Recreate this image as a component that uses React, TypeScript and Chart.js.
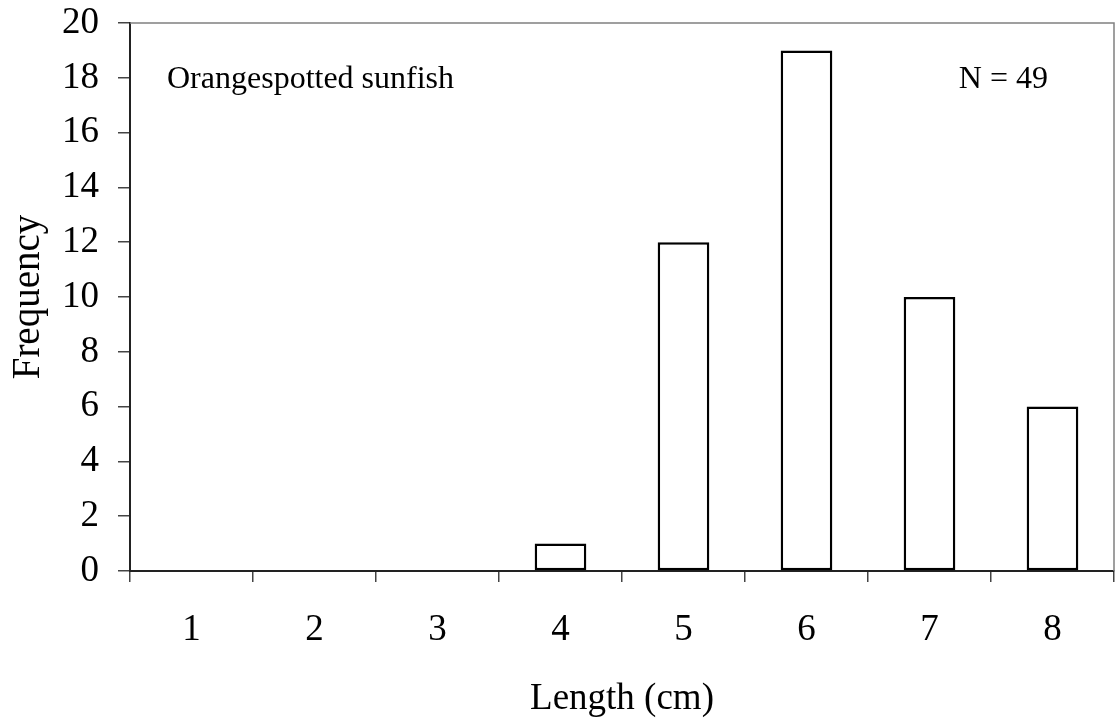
import React, { useEffect, useRef } from "react";
import { Chart, registerables } from "chart.js";

Chart.register(...registerables);

const categories = ["1", "2", "3", "4", "5", "6", "7", "8"];
const frequency = [0, 0, 0, 1, 12, 19, 10, 6];
const speciesLabel = "Orangespotted sunfish";
const countLabel = "N = 49";
const xTitle = "Length (cm)";
const yTitle = "Frequency";

const SERIF = '"Liberation Serif", "Times New Roman", serif';

const framePlugin = {
  id: "frameAndNotes",
  beforeDatasetsDraw(chart: any) {
    const { ctx, chartArea } = chart;
    ctx.save();
    ctx.strokeStyle = "#808080";
    ctx.lineWidth = 1.5;
    ctx.beginPath();
    ctx.moveTo(chartArea.left, chartArea.top);
    ctx.lineTo(chartArea.right, chartArea.top);
    ctx.lineTo(chartArea.right, chartArea.bottom);
    ctx.stroke();
    ctx.restore();
  },
  afterDraw(chart: any) {
    const { ctx, chartArea } = chart;
    ctx.save();
    ctx.fillStyle = "#000";
    ctx.font = `32px ${SERIF}`;
    ctx.textBaseline = "alphabetic";
    ctx.textAlign = "left";
    ctx.fillText(speciesLabel, chartArea.left + 37, chartArea.top + 65);
    ctx.textAlign = "right";
    ctx.fillText(countLabel, chartArea.right - 66, chartArea.top + 65);
    ctx.restore();
  },
};

export default function App() {
  const ref = useRef<HTMLCanvasElement | null>(null);

  useEffect(() => {
    document.body.style.margin = "0";
    if (!ref.current) return;
    const chart = new Chart(ref.current, {
      type: "bar",
      data: {
        labels: categories,
        datasets: [
          {
            data: frequency,
            backgroundColor: "#ffffff",
            borderColor: "#000000",
            borderWidth: 2.5,
            borderSkipped: false,
            barPercentage: 0.42,
            categoryPercentage: 1,
          },
        ],
      },
      options: {
        responsive: false,
        animation: false,
        layout: { padding: { top: 23, right: 5, left: 0, bottom: 0 } },
        plugins: {
          legend: { display: false },
          tooltip: { enabled: false },
        },
        scales: {
          x: {
            afterFit(scale: any) {
              scale.height = 154;
              scale.paddingLeft = 0;
              scale.paddingRight = 0;
            },
            grid: {
              offset: true,
              drawOnChartArea: false,
              drawTicks: true,
              tickLength: 11,
              color: "#444",
              lineWidth: 1.5,
            },
            border: { display: true, color: "#222", width: 2 },
            ticks: {
              color: "#000",
              padding: 26,
              font: { family: SERIF, size: 37 },
              maxRotation: 0,
            },
            title: {
              display: true,
              text: xTitle,
              color: "#000",
              font: { family: SERIF, size: 37 },
              padding: { top: 0, bottom: 4 },
            },
          },
          y: {
            min: 0,
            max: 20,
            afterFit(scale: any) {
              scale.width = 130;
              scale.paddingTop = 0;
              scale.paddingBottom = 0;
            },
            grid: {
              drawOnChartArea: false,
              drawTicks: true,
              tickLength: 12,
              color: "#444",
              lineWidth: 1.5,
            },
            border: { display: true, color: "#222", width: 2 },
            ticks: {
              stepSize: 2,
              color: "#000",
              padding: 19,
              font: { family: SERIF, size: 37 },
            },
            title: {
              display: true,
              text: yTitle,
              color: "#000",
              font: { family: SERIF, size: 39 },
              padding: { top: 5, bottom: 0 },
            },
          },
        },
      },
      plugins: [framePlugin],
    });
    return () => chart.destroy();
  }, []);

  return (
    <div style={{ position: "absolute", left: 0, top: 0, width: 1119, height: 725 }}>
      <canvas ref={ref} width={1119} height={725} style={{ display: "block" }} />
    </div>
  );
}
